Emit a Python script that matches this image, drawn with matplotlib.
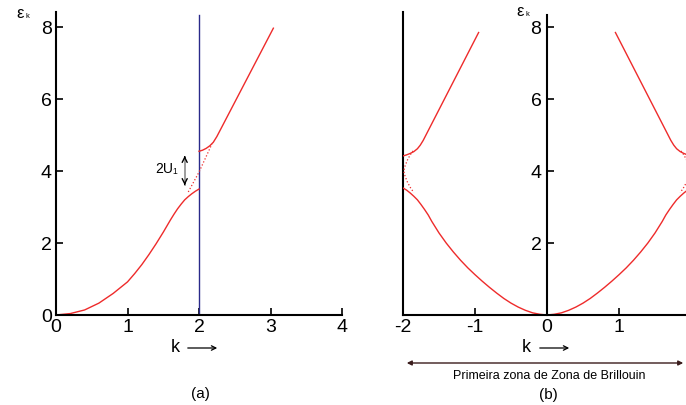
import matplotlib
matplotlib.use("Agg")
import matplotlib.pyplot as plt
import numpy as np

plt.rcParams['font.family'] = ['Liberation Sans', 'DejaVu Sans']
plt.rcParams['axes.unicode_minus'] = False

# ---- panel (a): extended zone scheme ----
k_low_a = [0.0, 0.2, 0.4, 0.6, 0.8, 1.0, 1.1, 1.2, 1.3, 1.4, 1.5, 1.6,
           1.65, 1.7, 1.75, 1.8, 1.85, 1.9, 1.95, 2.0]
e_low_a = [0.0, 0.04, 0.14, 0.33, 0.6, 0.92, 1.15, 1.4, 1.68, 1.98, 2.3, 2.64,
           2.8, 2.95, 3.08, 3.2, 3.29, 3.37, 3.44, 3.5]
k_up_a = [2.0, 2.05, 2.1, 2.15, 2.2, 2.25, 3.04]
e_up_a = [4.55, 4.58, 4.63, 4.7, 4.8, 4.96, 7.97]
k_free_a = [1.85, 2.0, 2.18]
e_free_a = [3.42, 3.97, 4.75]

# ---- panel (b): reduced zone scheme (one half, mirrored) ----
k_low_b = [0.0, 0.1, 0.2, 0.3, 0.4, 0.5, 0.6, 0.7, 0.8, 0.9, 1.0, 1.1, 1.2,
           1.3, 1.4, 1.5, 1.6, 1.65, 1.7, 1.75, 1.8, 1.85, 1.9, 1.95, 2.0]
e_low_b = [0.0, 0.02, 0.06, 0.13, 0.22, 0.33, 0.46, 0.61, 0.77, 0.94, 1.12, 1.31, 1.52,
           1.75, 2.0, 2.28, 2.6, 2.78, 2.93, 3.07, 3.2, 3.3, 3.39, 3.47, 3.53]
k_up_b = [0.95, 1.72, 1.76, 1.8, 1.85, 1.9, 1.95, 2.0]
e_up_b = [7.85, 4.85, 4.72, 4.62, 4.54, 4.49, 4.45, 4.42]
k_free_b = [1.86, 1.9, 1.94, 1.97, 1.99, 1.97, 1.94, 1.9, 1.85]
e_free_b = [4.56, 4.45, 4.3, 4.15, 4.0, 3.85, 3.7, 3.55, 3.4]

xticks_a = [0, 1, 2, 3, 4]
yticks_a = [0, 2, 4, 6, 8]
xticks_b = [-2, -1, 0, 1]
yticks_b = [2, 4, 6, 8]

W, H = 686, 405
RED = '#ee2b2b'


def px(x, y):
    return x / W, 1 - y / H


def style(ax):
    for s in ['top', 'right']:
        ax.spines[s].set_visible(False)
    for s in ['left', 'bottom']:
        ax.spines[s].set_linewidth(1.5)
    ax.tick_params(direction='in', length=5, width=1.2, labelsize=14, pad=3)


fig = plt.figure(figsize=(6.86, 4.05), dpi=100)

# panel (a)
axa = fig.add_axes([56 / W, 90 / H, (342 - 56) / W, (315 - 12) / H])
style(axa)
axa.set_xlim(0, 4)
axa.set_ylim(0, 8.42)
axa.set_xticks(xticks_a)
axa.set_yticks(yticks_a)
axa.axvline(2, 0, 8.33 / 8.42, color='#2a2a8a', lw=1)
axa.plot(k_low_a, e_low_a, color=RED, lw=1)
axa.plot(k_up_a, e_up_a, color=RED, lw=1)
axa.plot(k_free_a, e_free_a, color=RED, lw=0.9, ls=':')
# 2U1 gap arrow
xg = 1.8
axa.plot([xg, xg], [3.62, 4.4], color='0.55', lw=1.2)
axa.annotate('', xy=(xg, 4.5), xytext=(xg, 4.3),
             arrowprops=dict(arrowstyle='->', color='black', lw=1, mutation_scale=9))
axa.annotate('', xy=(xg, 3.53), xytext=(xg, 3.73),
             arrowprops=dict(arrowstyle='->', color='black', lw=1, mutation_scale=9))
axa.text(1.71, 4.05, '2U₁', fontsize=10, ha='right', va='center')

# panel (b)
axb = fig.add_axes([403 / W, 90 / H, (686 - 403) / W, (315 - 12) / H])
style(axb)
axb.set_xlim(-2, 1.93)
axb.set_ylim(0, 8.42)
axb.spines['left'].set_position(('data', 0))
axb.spines['left'].set_bounds(0, 8.33)
axb.set_xticks(xticks_b)
axb.set_yticks(yticks_b)
axb.tick_params(axis='y', pad=4)
axb.plot([-2, -2], [0, 8.42], color='black', lw=1.5, clip_on=False)
for sgn in [-1, 1]:
    axb.plot(sgn * np.array(k_low_b), e_low_b, color=RED, lw=1)
    axb.plot(sgn * np.array(k_up_b), e_up_b, color=RED, lw=1)
    axb.plot(sgn * np.array(k_free_b), e_free_b, color=RED, lw=0.9, ls=':')

# labels
for xk, xa0, xa1 in [(175, 185, 220), (526, 537, 572)]:
    fig.text(*px(xk, 348), 'k', fontsize=13, ha='center', va='center')
    fig.patches.append(matplotlib.patches.FancyArrowPatch(
        px(xa0, 348), px(xa1, 348), transform=fig.transFigure,
        arrowstyle='->', color='black', lw=0.9, mutation_scale=8))

for xe, ye in [(20, 13), (520, 11)]:
    fig.text(*px(xe, ye), 'ε', fontsize=12, ha='center', va='center')
    fig.text(*px(xe + 7, ye + 4), 'k', fontsize=5.5, ha='center', va='center')

fig.patches.append(matplotlib.patches.FancyArrowPatch(
    px(404, 363), px(686, 363), transform=fig.transFigure,
    arrowstyle='<|-|>', color='#3a1c1c', lw=1, mutation_scale=7))
fig.text(*px(549, 376), 'Primeira zona de Zona de Brillouin', fontsize=9,
         ha='center', va='center')
fig.text(*px(548, 395), '(b)', fontsize=11, ha='center', va='center')
fig.text(*px(200, 394), '(a)', fontsize=11, ha='center', va='center')

fig.savefig('out.png', dpi=100)
